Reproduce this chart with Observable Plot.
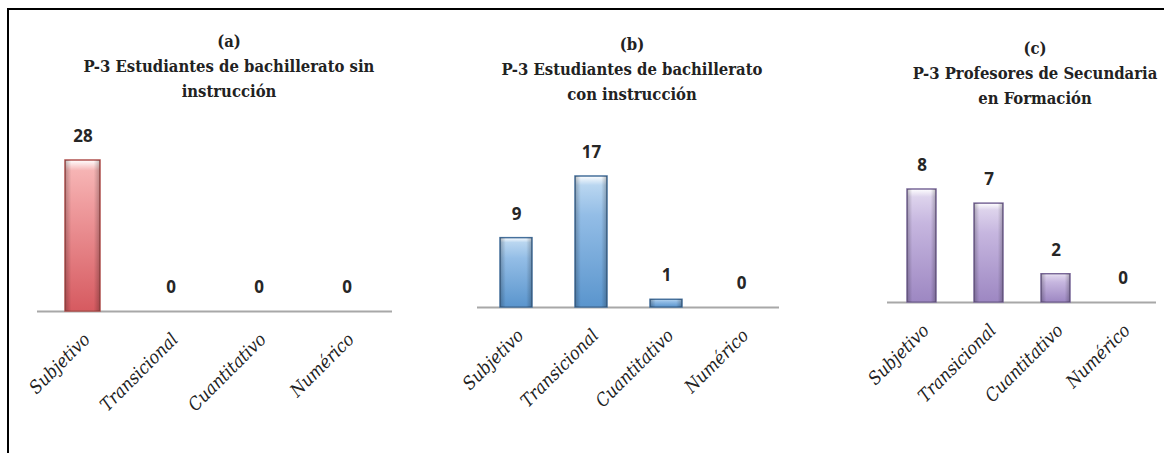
<!DOCTYPE html>
<html><head><meta charset="utf-8">
<script src="https://cdn.jsdelivr.net/npm/d3@7"></script>
<script src="https://cdn.jsdelivr.net/npm/@observablehq/plot@0.6"></script>
<style>
body{margin:0;background:#fff;width:1164px;height:453px;overflow:hidden;position:relative;}
#frame{position:absolute;left:7px;top:8px;width:1157px;height:445px;border-top:2px solid #000;border-left:2px solid #000;box-sizing:border-box;}
.panel{position:absolute;top:0;}
.title{position:absolute;text-align:center;font-family:"DejaVu Serif Condensed","DejaVu Serif",serif;font-weight:bold;font-size:16.5px;line-height:25px;white-space:nowrap;color:#222;transform:translateX(-50%);}
</style></head><body>
<div id="frame"></div>
<script>
// ---- data ----
const categories = ["Subjetivo", "Transicional", "Cuantitativo", "Numérico"];
const valuesA = [28, 0, 0, 0];
const valuesB = [9, 17, 1, 0];
const valuesC = [8, 7, 2, 0];
const titleA = ["(a)", "P-3 Estudiantes de bachillerato sin", "instrucción"];
const titleB = ["(b)", "P-3 Estudiantes de bachillerato", "con instrucción"];
const titleC = ["(c)", "P-3 Profesores de Secundaria", "en Formación"];

// ---- layout / style ----
const panels = [
  {id: "a", values: valuesA, title: titleA, left: 10, width: 385, mL: 27, mR: 3, mT: 160, mB: 142, pad: 0.6,
   titleX: 229, titleTop: 29, top: "#f6b4b4", mid: "#ef9c9e", bot: "#d65a60", stroke: "#b0524f"},
  {id: "b", values: valuesB, title: titleB, left: 395, width: 390, mL: 82, mR: 6, mT: 176, mB: 146, pad: 0.58,
   titleX: 632, titleTop: 32, top: "#b9d6f0", mid: "#93bde6", bot: "#5a95cd", stroke: "#45709c"},
  {id: "c", values: valuesC, title: titleC, left: 785, width: 379, mL: 102, mR: 8, mT: 189, mB: 151, pad: 0.57,
   titleX: 1035, titleTop: 36, top: "#ddd3ec", mid: "#c6b6df", bot: "#9d87c2", stroke: "#7a6899"}
];

function gradientDefs(p) {
  return () => {
    const defs = d3.create("svg:defs");
    const v = defs.append("linearGradient").attr("id", "gv" + p.id)
      .attr("x1", 0).attr("x2", 0).attr("y1", 0).attr("y2", 1);
    [[0, "#ffffff"], [0.07, p.top], [0.3, p.mid], [1, p.bot]].forEach(([o, c]) =>
      v.append("stop").attr("offset", o).attr("stop-color", c));
    const h = defs.append("linearGradient").attr("id", "gh" + p.id)
      .attr("x1", 0).attr("x2", 1).attr("y1", 0).attr("y2", 0);
    [[0, 0.25], [0.18, 0], [0.82, 0], [1, 0.25]].forEach(([o, a]) =>
      h.append("stop").attr("offset", o).attr("stop-color", "#000").attr("stop-opacity", a));
    return defs.node();
  };
}

for (const p of panels) {
  const data = categories.map((c, i) => ({cat: c, v: p.values[i]}));
  const chart = Plot.plot({
    width: p.width,
    height: 453,
    marginLeft: p.mL, marginRight: p.mR, marginTop: p.mT, marginBottom: p.mB,
    x: {domain: categories, paddingInner: p.pad, paddingOuter: p.pad / 2, axis: null},
    y: {domain: [0, d3.max(p.values)], axis: null},
    style: {background: "transparent", overflow: "visible"},
    marks: [
      gradientDefs(p),
      Plot.ruleY([0], {stroke: "#a8a8a8", strokeWidth: 2}),
      Plot.barY(data, {x: "cat", y: "v", fill: `url(#gv${p.id})`, stroke: p.stroke, strokeWidth: 1.5}),
      Plot.barY(data, {x: "cat", y: "v", fill: `url(#gh${p.id})`}),
      Plot.text(data, {x: "cat", y: "v", text: d => String(d.v), dy: -24, fontSize: 17, fontWeight: "bold",
        fontFamily: "'Open Sans', sans-serif", fill: "#262626"}),
      Plot.text(data, {x: "cat", y: () => 0, text: "cat", rotate: -45, textAnchor: "end", lineAnchor: "middle",
        dx: 4, dy: 25, fontSize: 18, fontStyle: "italic", fontFamily: "'DejaVu Serif Condensed', 'DejaVu Serif', serif", fill: "#222"})
    ]
  });
  chart.classList.add("panel");
  chart.style.left = p.left + "px";
  document.body.appendChild(chart);
  const t = document.createElement("div");
  t.className = "title";
  t.style.left = p.titleX + "px";
  t.style.top = p.titleTop + "px";
  t.innerHTML = p.title.join("<br>");
  document.body.appendChild(t);
}
</script>
</body></html>
